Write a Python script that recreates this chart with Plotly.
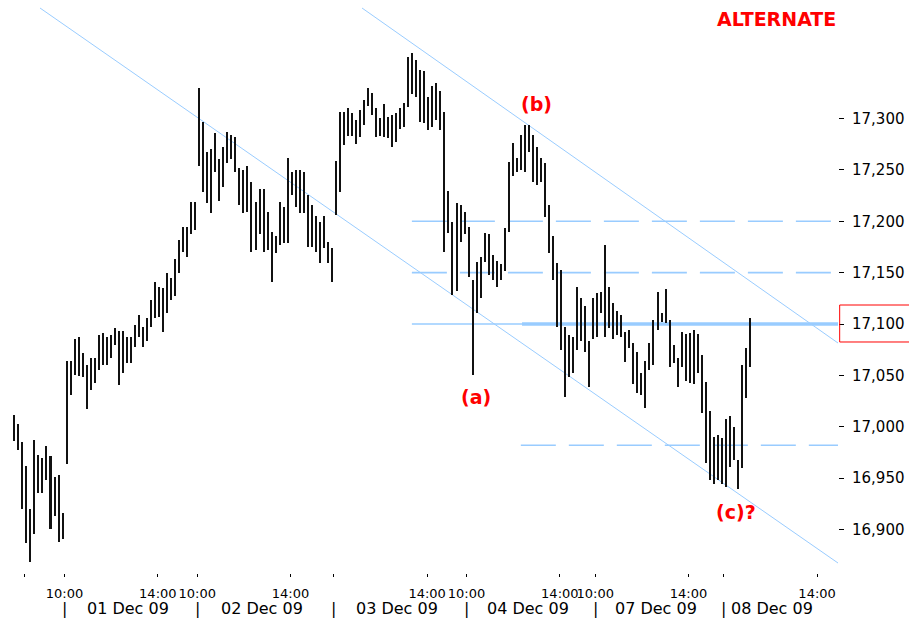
import numpy as np
import plotly.graph_objects as go

# 10-minute bars, high / low per session
sessions = ["30 Nov 09", "01 Dec 09", "02 Dec 09", "03 Dec 09", "04 Dec 09", "07 Dec 09", "08 Dec 09"]

nov30_high = [17011, 17003, 16985, 16962, 16920, 16987, 16973, 16970, 16981, 16972, 16951, 16953, 16916]
nov30_low = [16986, 16977, 16920, 16887, 16868, 16896, 16936, 16936, 16948, 16901, 16913, 16888, 16891]

dec01_high = [17064, 17064, 17085, 17087, 17072, 17060, 17067, 17067, 17089, 17091, 17087, 17089, 17096,
              17093, 17093, 17087, 17087, 17099, 17109, 17097, 17106, 17123, 17141, 17136, 17135, 17150,
              17145, 17163, 17182, 17194, 17194, 17219, 17219]
dec01_low = [16964, 17031, 17050, 17049, 17048, 17017, 17036, 17043, 17055, 17060, 17060, 17067, 17080,
             17041, 17052, 17062, 17062, 17078, 17087, 17078, 17083, 17097, 17106, 17107, 17092, 17111,
             17123, 17127, 17150, 17170, 17165, 17188, 17191]

dec02_high = [17330, 17297, 17267, 17270, 17286, 17261, 17272, 17287, 17284, 17282, 17252, 17250, 17254,
              17238, 17219, 17231, 17231, 17209, 17190, 17186, 17219, 17214, 17262, 17248, 17250, 17250,
              17248, 17226, 17216, 17205, 17199, 17205, 17180, 17174]
dec02_low = [17254, 17228, 17218, 17208, 17248, 17220, 17233, 17257, 17261, 17248, 17216, 17208, 17209,
             17170, 17172, 17188, 17170, 17172, 17141, 17169, 17177, 17179, 17179, 17226, 17214, 17208,
             17208, 17175, 17175, 17170, 17159, 17174, 17159, 17141]

dec03_high = [17259, 17306, 17306, 17310, 17305, 17299, 17308, 17318, 17330, 17325, 17310, 17300, 17314,
              17301, 17303, 17305, 17310, 17315, 17360, 17364, 17357, 17347, 17346, 17321, 17332, 17335,
              17327, 17306, 17229, 17199, 17218, 17216, 17209]
dec03_low = [17206, 17228, 17274, 17283, 17283, 17275, 17282, 17294, 17312, 17303, 17282, 17283, 17282,
             17281, 17272, 17277, 17290, 17292, 17311, 17324, 17321, 17297, 17296, 17289, 17292, 17299,
             17289, 17170, 17189, 17128, 17132, 17180, 17188]

dec04_high = [17194, 17143, 17160, 17165, 17189, 17188, 17167, 17161, 17158, 17193, 17258, 17276, 17262,
              17284, 17294, 17294, 17284, 17272, 17262, 17257, 17216, 17186, 17159, 17153, 17097, 17089,
              17087, 17136, 17125, 17118, 17083, 17125]
dec04_low = [17146, 17050, 17111, 17125, 17160, 17148, 17143, 17136, 17143, 17152, 17190, 17244, 17248,
             17250, 17248, 17267, 17238, 17235, 17238, 17204, 17169, 17143, 17097, 17075, 17029, 17048,
             17052, 17075, 17083, 17073, 17039, 17085]

dec07_high = [17130, 17131, 17177, 17136, 17120, 17113, 17109, 17092, 17094, 17082, 17073, 17052, 17064,
              17082, 17104, 17131, 17111, 17134, 17104, 17080, 17067, 17092, 17090, 17091, 17094, 17090,
              17070, 17044, 17015, 16990, 16992, 16989]
dec07_low = [17087, 17111, 17087, 17096, 17085, 17089, 17087, 17063, 17077, 17042, 17033, 17031, 17018,
             17055, 17060, 17094, 17102, 17101, 17058, 17062, 17039, 17058, 17045, 17043, 17042, 17052,
             17013, 16965, 16948, 16944, 16948, 16944]

dec08_high = [17008, 17010, 17000, 16968, 17060, 17077, 17106]
dec08_low = [16941, 16961, 16968, 16939, 16960, 17028, 17058]

session_highs = [nov30_high, dec01_high, dec02_high, dec03_high, dec04_high, dec07_high, dec08_high]
session_lows = [nov30_low, dec01_low, dec02_low, dec03_low, dec04_low, dec07_low, dec08_low]

# levels drawn on the chart
dashed_levels = [17200, 17150]
pivot_level = 17100
low_level = 16982
y_ticks = [16900, 16950, 17000, 17050, 17100, 17150, 17200, 17250, 17300]

highs = np.concatenate(session_highs)
lows = np.concatenate(session_lows)
x = np.arange(len(highs))
starts = np.cumsum([0] + [len(h) for h in session_highs])[:-1]

X_MIN, X_MAX = -3.56, 204.9
Y_MIN, Y_MAX = 16857.7, 17415.3

LINE = "#99ccff"
RED = "#ff0000"
FONT = "DejaVu Sans"

fig = go.Figure()
fig.add_trace(go.Bar(
    x=x, y=highs - lows, base=lows, width=0.5,
    marker=dict(color="#111111", line=dict(width=0)),
    hoverinfo="skip", showlegend=False,
))

# x ticks: 10:00 at session open, 14:00 later in the day
tickvals, ticktext = [], []
hide_open = {"03 Dec 09", "08 Dec 09"}
for name, s in zip(sessions, starts):
    op = s - 0.5
    if name == "30 Nov 09":
        tickvals.append(starts[1] - 0.5 - 10.0)
        ticktext.append("")
        continue
    tickvals += [op, op + 23.2]
    ticktext += ["" if name in hide_open else "10:00", "14:00"]

# date row
ann = []
for i, (name, s) in enumerate(zip(sessions, starts)):
    if i == 0:
        continue
    ann.append(dict(x=s - 0.5, y=0, xref="x", yref="paper", text="|", showarrow=False,
                    yanchor="middle", yshift=-35, font=dict(family=FONT, size=16, color="black")))
    if i + 1 < len(starts):
        cx = (starts[i] + starts[i + 1]) / 2 - 1.3
    else:
        cx = s + 11.5
    ann.append(dict(x=cx, y=0, xref="x", yref="paper", text=name, showarrow=False,
                    yanchor="middle", yshift=-35, font=dict(family=FONT, size=16, color="black")))

# wave labels
for txt, xi, yv in [("(a)", 114.85, 17029), ("(b)", 129.9, 17314), ("(c)?", 179.5, 16917)]:
    ann.append(dict(x=xi, y=yv, text=txt, showarrow=False, yanchor="middle",
                    font=dict(family=FONT, size=19, color=RED, weight="bold")))
ann.append(dict(x=0.9266, y=0.966, xref="paper", yref="paper", text="ALTERNATE", showarrow=False,
                xanchor="center", yanchor="middle",
                font=dict(family=FONT, size=19, color=RED, weight="bold")))

shapes = []
# channel lines
shapes.append(dict(type="line", x0=6.4, y0=17407.5, x1=X_MAX, y1=16867.4,
                   line=dict(color=LINE, width=1), layer="below"))
shapes.append(dict(type="line", x0=86.5, y0=17407.5, x1=X_MAX, y1=17081.5,
                   line=dict(color=LINE, width=1), layer="below"))
# horizontal levels
for lv in dashed_levels:
    shapes.append(dict(type="line", x0=98.9, x1=X_MAX, y0=lv, y1=lv,
                       line=dict(color=LINE, width=1.6, dash="35px,13px"), layer="below"))
shapes.append(dict(type="line", x0=98.9, x1=X_MAX, y0=pivot_level, y1=pivot_level,
                   line=dict(color=LINE, width=1.6), layer="below"))
shapes.append(dict(type="line", x0=126.3, x1=X_MAX, y0=pivot_level, y1=pivot_level,
                   line=dict(color=LINE, width=3.5), layer="below"))
shapes.append(dict(type="line", x0=126.0, x1=X_MAX, y0=low_level, y1=low_level,
                   line=dict(color=LINE, width=1.6, dash="35px,13px"), layer="below"))
# box around the 17,100 label
shapes.append(dict(type="rect", xref="paper", x0=1.002, x1=1.2, y0=17082.5, y1=17118.5,
                   line=dict(color=RED, width=1)))

fig.update_layout(
    width=909, height=622,
    margin=dict(l=0, r=71, t=0, b=49),
    paper_bgcolor="white", plot_bgcolor="white",
    bargap=0, showlegend=False,
    font=dict(family=FONT, size=13, color="black"),
    xaxis=dict(range=[X_MIN, X_MAX], showgrid=False, zeroline=False, showline=False,
               automargin=False, tickangle=0,
               tickmode="array", tickvals=tickvals, ticktext=ticktext,
               ticks="outside", ticklen=3, tickwidth=1, tickcolor="black",
               ticklabelstandoff=5,
               tickfont=dict(family=FONT, size=13, color="black")),
    yaxis=dict(range=[Y_MIN, Y_MAX], side="right", showgrid=False, zeroline=False, showline=False,
               automargin=False,
               tickmode="array", tickvals=y_ticks, tickformat=",d",
               ticks="outside", ticklen=5, tickwidth=1, tickcolor="black",
               ticklabelstandoff=5,
               tickfont=dict(family=FONT, size=15, color="black")),
    shapes=shapes, annotations=ann,
)

# the page body has a default 8px margin; drop it so the figure sits at the window origin
fig.write_html("out.html", config={"displayModeBar": False},
               post_script="document.body.style.margin='0';")
